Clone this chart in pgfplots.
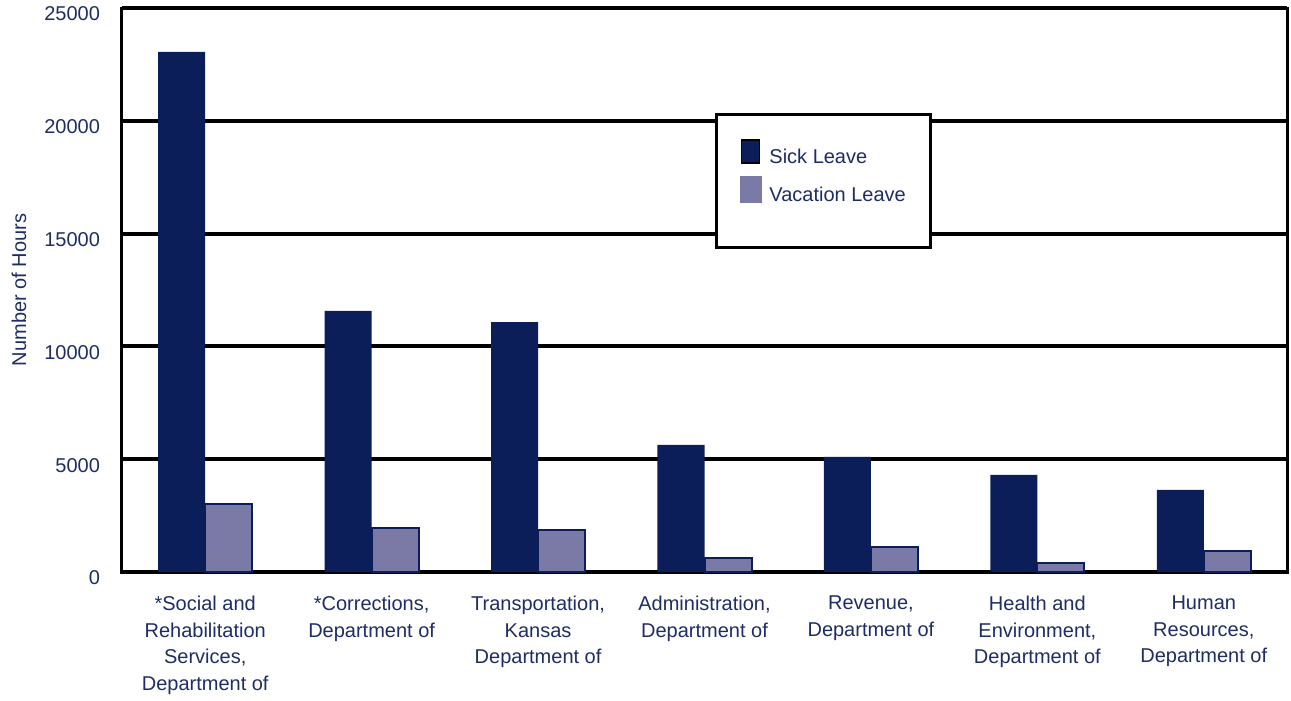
\documentclass[border=0pt]{standalone}
\usepackage{fontspec}
\setmainfont{Liberation Sans}
\usepackage{pgfplots}
\pgfplotsset{compat=1.18}
\definecolor{sick}{RGB}{11,30,89}
\definecolor{vac}{RGB}{123,122,166}
\definecolor{txt}{RGB}{30,45,100}
\begin{document}
\begin{tikzpicture}
\path (-61pt,-63pt) rectangle (584.5pt,286pt);
\begin{axis}[
  at={(0pt,0pt)}, anchor=south west,
  scale only axis, width=582.5pt, height=282pt,
  xmin=-0.5, xmax=6.5, ymin=0, ymax=25000,
  ytick={0,5000,...,25000},
  scaled y ticks=false,
  xtick={0,...,6},
  xticklabels={{*Social and\\Rehabilitation\\Services,\\Department of},
               {*Corrections,\\Department of},
               {Transportation,\\Kansas\\Department of},
               {Administration,\\Department of},
               {Revenue,\\Department of},
               {Health and\\Environment,\\Department of},
               {Human\\Resources,\\Department of}},
  major tick length=0pt,
  ymajorgrids, grid style={black, line width=2pt},
  axis line style={black, line width=1.5pt},
  ybar=0pt, bar width=23.5pt,
  /pgf/number format/assume math mode=true,
  /pgf/number format/1000 sep={},
  yticklabel style={text=txt, font=\fontsize{10}{12}\selectfont, xshift=-7.5pt, yshift=-3pt},
  xticklabel style={text=txt, font=\fontsize{10}{13.25}\selectfont, align=center, anchor=north, yshift=-8.5pt},
  ylabel={Number of Hours},
  ylabel style={text=txt, font=\fontsize{10}{12}\selectfont, at={(axis description cs:0,0.5)}, anchor=center, yshift=51.5pt},
  legend style={at={(rel axis cs:0.5305,0.7677)}, anchor=north west, draw=none, fill=none, inner sep=0pt,
    row sep=4.5pt, column sep=0pt,
    nodes={inner sep=0pt, text=txt, font=\fontsize{10}{12}\selectfont}},
  legend cell align=left,
]
\addplot[fill=sick, draw=none,
  legend image code/.code={\draw[fill=sick, draw=black, line width=0.6pt] (0pt,-2.5pt) rectangle (9pt,9pt); \path (13.5pt,0pt);}]
  coordinates {(0,23050) (1,11570) (2,11080) (3,5630) (4,5100) (5,4300) (6,3640)};
\addplot[fill=vac, draw=sick, line width=1pt,
  legend image code/.code={\fill[vac] (0pt,-3pt) rectangle (10pt,9.5pt); \path (13.5pt,0pt);}]
  coordinates {(0,3010) (1,1950) (2,1860) (3,620) (4,1110) (5,400) (6,930)};
\draw[line width=1.5pt, fill=white] (rel axis cs:0.5107,0.812) rectangle (rel axis cs:0.6944,0.5762);
\legend{Sick Leave, Vacation Leave}
\end{axis}
\end{tikzpicture}
\end{document}
